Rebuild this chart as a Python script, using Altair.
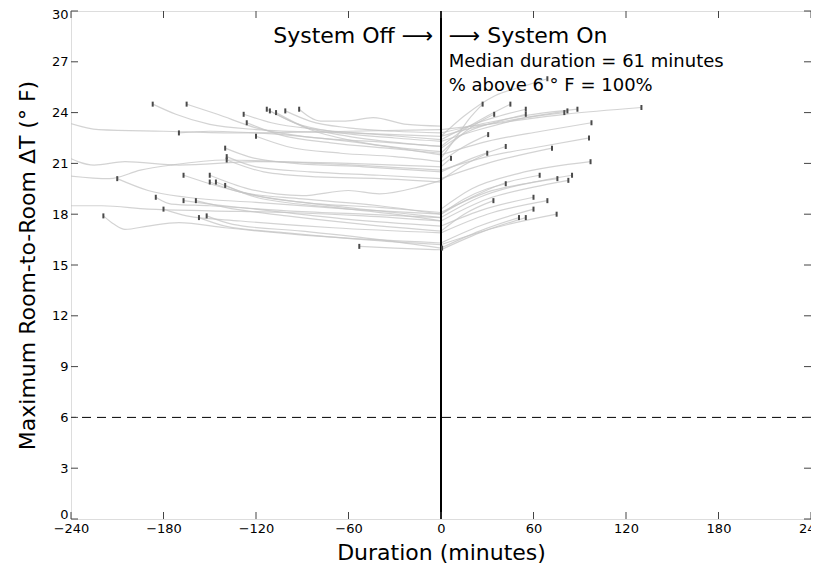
import altair as alt
import pandas as pd

# ---------------- data ----------------
# each line: list of (minutes, max room-to-room dT in F) vertices
off_upper = [
    [(-187, 24.5), (-172, 23.9), (-150, 23.3), (-120, 23.0), (-60, 22.8), (0, 22.6)],
    [(-165, 24.5), (-145, 23.9), (-120, 23.1), (-90, 22.6), (-45, 22.3), (0, 22.0)],
    [(-170, 22.8), (-150, 22.9), (-120, 22.8), (-60, 22.3), (0, 21.5)],
    [(-140, 21.9), (-125, 21.4), (-95, 21.0), (-50, 20.8), (0, 20.5)],
    [(-139, 21.4), (-120, 20.8), (-85, 20.5), (-40, 20.3), (0, 20.1)],
    [(-139, 21.2), (-115, 20.5), (-80, 20.2), (-40, 20.1), (0, 19.9)],
    [(-128, 23.9), (-110, 23.4), (-80, 23.0), (-40, 22.7), (0, 22.4)],
    [(-126, 23.4), (-105, 22.7), (-70, 22.2), (-35, 21.9), (0, 21.6)],
    [(-120, 22.6), (-100, 22.0), (-65, 21.6), (-30, 21.4), (0, 21.1)],
    [(-113, 24.2), (-95, 23.4), (-65, 22.8), (-30, 22.5), (0, 22.3)],
    [(-111, 24.1), (-90, 23.2), (-60, 22.6), (-25, 22.2), (0, 22.0)],
    [(-107, 24.0), (-85, 23.0), (-55, 22.3), (-25, 21.9), (0, 21.7)],
    [(-101, 24.1), (-85, 23.5), (-60, 23.1), (-30, 22.9), (0, 22.8)],
    [(-92, 24.2), (-78, 23.5), (-62, 23.5), (-44, 23.7), (-22, 23.3), (0, 23.2)],
    [(-245, 23.5), (-222, 23.0), (-180, 22.9), (-130, 22.8), (-60, 22.9), (0, 23.0)],
    [(-245, 21.5), (-225, 20.9), (-205, 21.1), (-170, 20.9), (-120, 21.1), (-60, 21.0), (0, 20.8)],
]

off_lower = [
    [(-219, 17.9), (-212, 17.4), (-205, 17.1), (-190, 17.3), (-170, 17.5), (-140, 17.2), (-80, 16.7), (0, 16.3)],
    [(-245, 20.3), (-215, 20.1), (-195, 20.6), (-175, 20.9), (-140, 21.2), (-80, 21.0), (0, 20.6)],
    [(-210, 20.1), (-190, 19.4), (-165, 19.0), (-120, 18.7), (-60, 18.3), (0, 18.0)],
    [(-185, 19.0), (-175, 18.6), (-150, 18.5), (-100, 18.2), (-50, 18.0), (0, 17.8)],
    [(-180, 18.3), (-165, 17.9), (-130, 17.6), (-70, 17.2), (0, 16.9)],
    [(-167, 20.3), (-150, 19.8), (-130, 19.3), (-90, 18.7), (-40, 18.4), (0, 18.1)],
    [(-167, 18.8), (-150, 18.6), (-120, 18.3), (-60, 17.7), (0, 17.3)],
    [(-159, 18.8), (-140, 18.4), (-100, 17.9), (-50, 17.4), (0, 17.0)],
    [(-157, 17.8), (-140, 17.3), (-100, 16.9), (-50, 16.5), (0, 16.2)],
    [(-152, 17.9), (-135, 17.4), (-90, 17.0), (-40, 16.5), (0, 16.0)],
    [(-150, 20.3), (-125, 19.5), (-90, 19.1), (-60, 19.4), (-40, 19.2), (-15, 19.6), (0, 20.0)],
    [(-150, 19.9), (-130, 19.3), (-90, 18.9), (-40, 18.5), (0, 18.0)],
    [(-146, 19.9), (-125, 19.2), (-80, 18.6), (-30, 18.1), (0, 17.8)],
    [(-140, 19.7), (-120, 19.0), (-70, 18.4), (-30, 18.0), (0, 17.6)],
    [(-53, 16.1), (-30, 16.0), (0, 15.9)],
    [(-245, 18.5), (-220, 18.5), (-190, 18.3), (-150, 18.2), (-100, 18.1), (-50, 17.9), (0, 17.6)],
]

on_upper = [
    [(0, 21.3), (8, 22.3), (18, 23.6), (27, 24.5)],
    [(0, 22.0), (15, 23.0), (30, 23.8), (45, 24.5)],
    [(0, 21.6), (12, 22.6), (24, 23.4), (34.5, 23.9)],
    [(0, 22.4), (18, 23.2), (38, 23.8), (55, 24.2)],
    [(0, 21.9), (18, 22.9), (38, 23.5), (55, 23.9)],
    [(0, 22.6), (25, 23.2), (55, 23.7), (80, 24.0)],
    [(0, 22.3), (25, 23.0), (55, 23.7), (82, 24.1)],
    [(0, 22.8), (30, 23.4), (60, 23.9), (88.5, 24.2)],
    [(0, 23.0), (30, 23.3), (80, 23.9), (130, 24.3)],
    [(0, 21.5), (30, 22.3), (65, 22.9), (97.6, 23.4)],
    [(0, 21.1), (15, 22.0), (30.6, 22.7)],
    [(0, 20.6), (30, 21.4), (65, 22.0), (96, 22.5)],
    [(0, 20.5), (20, 21.3), (42, 22.0)],
    [(0, 20.1), (30, 21.0), (72, 21.9)],
    [(0, 20.0), (15, 20.9), (30, 21.6)],
    [(0, 20.8), (6.5, 21.3)],
    [(0, 22.6), (15, 23.8), (35, 25.0), (55, 25.6), (69, 26.0)],
]

on_lower = [
    [(0, 18.3), (20, 19.5), (50, 20.4), (97, 21.1)],
    [(0, 18.0), (20, 19.0), (40, 19.8), (64, 20.3)],
    [(0, 17.8), (25, 19.0), (50, 19.7), (75.5, 20.1)],
    [(0, 18.1), (30, 19.3), (60, 19.9), (85, 20.3)],
    [(0, 17.6), (30, 18.9), (60, 19.6), (82.6, 20.0)],
    [(0, 18.0), (15, 18.9), (30, 19.5), (42, 19.8)],
    [(0, 17.0), (15, 18.0), (34, 18.8)],
    [(0, 17.3), (25, 18.2), (60, 19.0)],
    [(0, 16.9), (30, 18.0), (69, 18.8)],
    [(0, 16.3), (25, 17.3), (60, 18.3)],
    [(0, 16.2), (35, 17.2), (75, 18.0)],
    [(0, 16.0), (25, 17.0), (50.6, 17.8)],
    [(0, 15.9), (25, 16.9), (55, 17.8)],
    [(0, 15.9), (0.7, 16.0)],
]

x_ticks = [-240, -180, -120, -60, 0, 60, 120, 180, 240]
y_ticks = [0, 3, 6, 9, 12, 15, 18, 21, 24, 27, 30]
threshold = [6]
switch_time = [0]

ann_left = ["System Off \u27f6"]
ann_right = ["\u27f6 System On"]
ann_stats = ["Median duration = 61 minutes", "% above 6 \u00b0 F = 100%"]

# ---------------- build tables ----------------
rows, marks = [], []
lid = 0
for kind, group in [("off", off_upper), ("off", off_lower), ("on", on_upper), ("on", on_lower)]:
    for line in group:
        for i, (t, v) in enumerate(line):
            rows.append({"id": lid, "seq": i, "t": t, "v": v})
        pt = line[0] if kind == "off" else line[-1]
        if -240 <= pt[0] <= 240:
            marks.append({"t": pt[0], "v": pt[1]})
        lid += 1
df = pd.DataFrame(rows)
dm = pd.DataFrame(marks)

FONT = "DejaVu Sans"
W, H = 740, 508
TL = 7

xs = alt.Scale(domain=[-240, 240], nice=False, zero=False)
ys = alt.Scale(domain=[0, 30], nice=False, zero=False)

x_axis = alt.Axis(values=x_ticks, format="d", ticks=False, domain=False, grid=False,
                  labelFlush=False, labelOverlap=False,
                  labelFont=FONT, labelFontSize=13, labelColor="black", labelPadding=3,
                  title="Duration (minutes)", titleFont=FONT, titleFontSize=22,
                  titleFontWeight="normal", titleColor="black", titlePadding=7)
y_axis = alt.Axis(values=y_ticks, format="d", ticks=False, domain=False, grid=False,
                  labelFlush=False, labelOverlap=False,
                  labelOffset={"condition": [{"test": "datum.value == 30", "value": 3},
                                             {"test": "datum.value == 0", "value": -5}],
                               "value": 0},
                  labelFont=FONT, labelFontSize=13, labelColor="black", labelPadding=3,
                  title="Maximum Room-to-Room \u0394T (\u00b0 F)", titleFont=FONT, titleFontSize=22,
                  titleFontWeight="normal", titleColor="black", titlePadding=12)

lines = alt.Chart(df).mark_line(color="#c4c4c4", strokeWidth=1.2, opacity=0.75,
                                clip=True, interpolate="monotone").encode(
    x=alt.X("t:Q", scale=xs, axis=x_axis),
    y=alt.Y("v:Q", scale=ys, axis=y_axis),
    detail="id:N",
    order="seq:Q",
)

markers = alt.Chart(dm).mark_tick(orient="vertical", size=5, thickness=2, color="#4a4a4a", opacity=1).encode(
    x=alt.X("t:Q", scale=xs), y=alt.Y("v:Q", scale=ys)
)

vline = alt.Chart(pd.DataFrame({"t": switch_time})).mark_rule(color="black", strokeWidth=2).encode(
    x=alt.X("t:Q", scale=xs)
)
hline = alt.Chart(pd.DataFrame({"v": threshold})).mark_rule(color="black", strokeWidth=1,
                                                           strokeDash=[9, 6]).encode(
    y=alt.Y("v:Q", scale=ys)
)

dxt = pd.DataFrame({"t": x_ticks})
dyt = pd.DataFrame({"v": y_ticks})
tick_col = "#444444"
xt_bot = alt.Chart(dxt).mark_rule(color=tick_col, strokeWidth=1).encode(
    x=alt.X("t:Q", scale=xs), y=alt.value(H - TL), y2=alt.value(H))
xt_top = alt.Chart(dxt).mark_rule(color=tick_col, strokeWidth=1).encode(
    x=alt.X("t:Q", scale=xs), y=alt.value(0), y2=alt.value(TL))
yt_left = alt.Chart(dyt).mark_rule(color=tick_col, strokeWidth=1).encode(
    y=alt.Y("v:Q", scale=ys), x=alt.value(0), x2=alt.value(TL))
yt_right = alt.Chart(dyt).mark_rule(color=tick_col, strokeWidth=1).encode(
    y=alt.Y("v:Q", scale=ys), x=alt.value(W - TL), x2=alt.value(W))

t_left = alt.Chart(pd.DataFrame({"txt": ann_left, "t": [-5], "v": [28.5]})).mark_text(
    align="right", baseline="middle", font=FONT, fontSize=22, color="black").encode(
    x=alt.X("t:Q", scale=xs), y=alt.Y("v:Q", scale=ys), text="txt:N")
t_right = alt.Chart(pd.DataFrame({"txt": ann_right, "t": [5], "v": [28.5]})).mark_text(
    align="left", baseline="middle", font=FONT, fontSize=22, color="black").encode(
    x=alt.X("t:Q", scale=xs), y=alt.Y("v:Q", scale=ys), text="txt:N")
t_stats = alt.Chart(pd.DataFrame({"txt": ann_stats, "t": [5, 5], "v": [27.0, 25.6]})).mark_text(
    align="left", baseline="middle", font=FONT, fontSize=18, color="black").encode(
    x=alt.X("t:Q", scale=xs), y=alt.Y("v:Q", scale=ys), text="txt:N")

chart = alt.layer(
    lines, hline, vline, markers, xt_bot, xt_top, yt_left, yt_right, t_left, t_right, t_stats
).properties(
    width=W, height=H,
    autosize=alt.AutoSizeParams(type="none"),
    padding={"left": 63, "top": 3, "right": 0, "bottom": 45},
).configure_view(stroke="black", strokeWidth=1.2).configure(background="white")

chart.save("out.html", embed_options={"renderer": "svg", "actions": False})
